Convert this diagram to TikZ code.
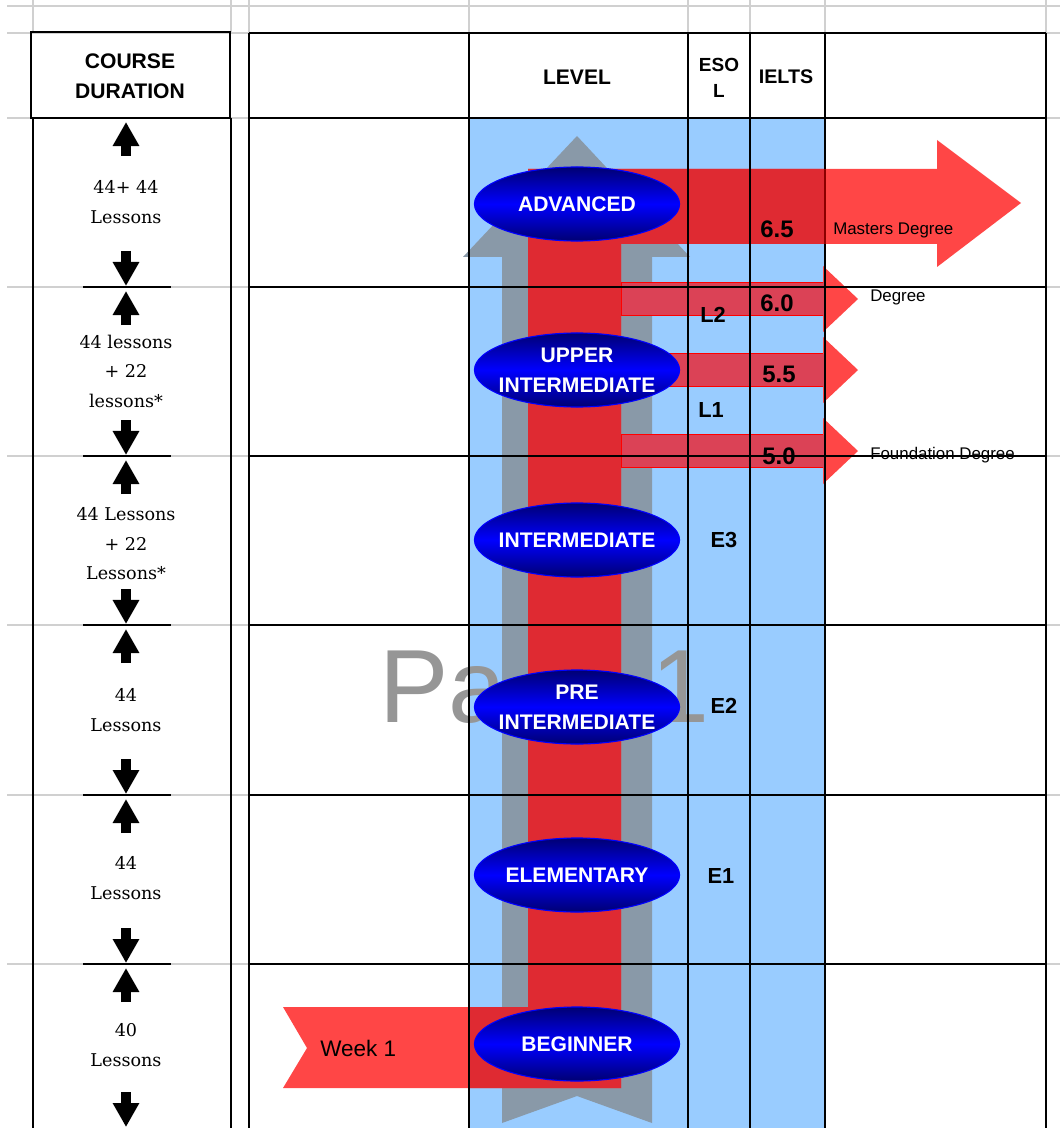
\documentclass[tikz,border=0pt]{standalone}
\usepackage{fontspec}
\setmainfont{DejaVu Serif}
\setsansfont{Liberation Sans}
\usetikzlibrary{arrows.meta,shapes.geometric}

\definecolor{cellblue}{RGB}{153,204,255}
\definecolor{gridgray}{RGB}{208,208,208}
\definecolor{arrowgray}{RGB}{137,153,168}
\definecolor{lightred}{RGB}{255,70,70}
\definecolor{darkred}{RGB}{223,42,50}
\definecolor{pinkred}{RGB}{219,66,86}
\definecolor{lvlnavy}{RGB}{0,0,115}
\definecolor{pagetext}{RGB}{150,150,150}

\begin{document}
\begin{tikzpicture}[x=0.025cm, y=-0.025cm,
	lvlshape/.style={ellipse, draw=blue, line width=0.8pt, minimum width=5.125cm, minimum height=1.85cm, inner sep=0pt,
		top color=lvlnavy, bottom color=lvlnavy, middle color=blue},
	lvltext/.style={text=white, font=\sffamily\bfseries\fontsize{15}{21}\selectfont, align=center, inner sep=0pt},
	headtext/.style={font=\sffamily\bfseries\fontsize{15}{21}\selectfont, align=center, inner sep=0pt},
	esoltext/.style={font=\sffamily\bfseries\fontsize{15.5}{18}\selectfont, inner sep=0pt},
	ieltstext/.style={font=\sffamily\bfseries\fontsize{17}{18}\selectfont, inner sep=0pt},
	goaltext/.style={font=\sffamily\fontsize{12}{14}\selectfont, anchor=west, inner sep=0pt},
	durtext/.style={font=\fontsize{12.5}{21}\selectfont, align=center, inner sep=0pt},
	durarrow/.style={line width=0.24cm, -{Triangle[width=0.625cm,length=0.6cm]}},
	gridline/.style={gridgray, line width=0.8pt},
	tableline/.style={black, line width=0.9pt}]
	\useasboundingbox (0,0) rectangle (1060,1128);

	% spreadsheet grid
	\foreach \y in {6,33,118,287,456,625,795,964}
		\draw[gridline] (7,\y) -- (1060,\y);
	\foreach \x in {33,231,249,469,688,750,825,1046}
		\draw[gridline] (\x,0) -- (\x,33);

	% level column
	\fill[cellblue] (469,118) rectangle (825,1128);
	\node[text=pagetext, font=\sffamily\fontsize{74}{76}\selectfont, anchor=base west, inner sep=0pt] (page) at (379,722) {Page 1};
	\fill[arrowgray] (502,1123) -- (502,257) -- (463,257) -- (577,136) -- (690,257) -- (652,257) -- (652,1123) -- (577,1096) -- cycle;

	% route from week 1 up to the degrees
	\fill[lightred] (283,1007) -- (307,1048) -- (283,1088) -- (621,1088) -- (621,244) -- (937,244) -- (937,267)
		-- (1021,203) -- (937,140) -- (937,169) -- (528,169) -- (528,1007) -- cycle;
	\foreach \c in {299,370,451}
		\fill[lightred] (621,\c-16.5) -- (823,\c-16.5) -- (823,\c-33) -- (858,\c) -- (823,\c+33) -- (823,\c+16.5) -- (621,\c+16.5) -- cycle;
	\begin{scope}
		\clip (469,118) rectangle (825,1128);
		\fill[darkred] (283,1007) -- (307,1048) -- (283,1088) -- (621,1088) -- (621,244) -- (937,244) -- (937,267)
			-- (1021,203) -- (937,140) -- (937,169) -- (528,169) -- (528,1007) -- cycle;
		\foreach \c in {299,370,451}
			\fill[pinkred] (621,\c-16.5) rectangle (825,\c+16.5);
	\end{scope}
	\foreach \c in {299,370,451}
		\draw[red, line width=0.6pt] (823,\c-16.5) -- (621,\c-16.5) -- (621,\c+16.5) -- (823,\c+16.5);

	% table lines
	\draw[line width=2pt] (31,32) rectangle (230,118);
	\draw[tableline] (33,118) -- (33,1128) (231,118) -- (231,1128);
	\foreach \y in {287,456,625,795,964}
		\draw[tableline] (83,\y) -- (171,\y);
	\foreach \x in {249,469,688,750,825,1046}
		\draw[tableline] (\x,33) -- (\x,1128);
	\foreach \y in {33,118,287,456,625,795,964}
		\draw[tableline] (249,\y) -- (1046,\y);
	\draw[tableline, red!55!black] (825,169) -- (825,244);

	% headers
	\node[headtext] (duration) at (130,76) {COURSE\\DURATION};
	\node[headtext] (level) at (577,77) {LEVEL};
	\node[headtext, font=\sffamily\bfseries\fontsize{13.5}{18.5}\selectfont] (esol) at (719,78) {ESO\\L};
	\node[headtext, font=\sffamily\bfseries\fontsize{14}{18}\selectfont] (ielts) at (786,77) {IELTS};

	% course duration
	\foreach \t/\b in {118/287,287/456,456/625,625/795,795/964,964/1128} {
		\draw[durarrow] (126,\t+38) -- (126,\t+4);
		\draw[durarrow] (126,\b-36) -- (126,\b-1);
	}
	\node[durtext] (dur-adv) at (126,202) {44+ 44\\Lessons};
	\node[durtext] (dur-upp) at (126,371) {44 lessons\\+ 22\\lessons*};
	\node[durtext] (dur-int) at (126,544) {44 Lessons\\+ 22\\Lessons*};
	\node[durtext] (dur-pre) at (126,710) {44\\Lessons};
	\node[durtext] (dur-ele) at (126,878) {44\\Lessons};
	\node[durtext] (dur-beg) at (126,1045) {40\\Lessons};

	% levels
	\node[lvlshape] (advanced) at (577,204) {};
	\node[lvltext] (advanced-t) at (advanced) {ADVANCED};
	\node[lvlshape] (upper) at (577,370) {};
	\node[lvltext] (upper-t) at (upper) {UPPER\\INTERMEDIATE};
	\node[lvlshape] (inter) at (577,540) {};
	\node[lvltext] (inter-t) at (inter) {INTERMEDIATE};
	\node[lvlshape] (pre) at (577,707) {};
	\node[lvltext] (pre-t) at (pre) {PRE\\INTERMEDIATE};
	\node[lvlshape] (elem) at (577,875) {};
	\node[lvltext] (elem-t) at (elem) {ELEMENTARY};
	\node[lvlshape] (begin) at (577,1044) {};
	\node[lvltext] (begin-t) at (begin) {BEGINNER};

	% esol and ielts
	\node[esoltext] (l2) at (713,315) {L2};
	\node[esoltext] (l1) at (711,410) {L1};
	\node[esoltext] (e3) at (724,540) {E3};
	\node[esoltext] (e2) at (724,706) {E2};
	\node[esoltext] (e1) at (721,876) {E1};
	\node[ieltstext] (i65) at (777,229) {6.5};
	\node[ieltstext] (i60) at (777,303) {6.0};
	\node[ieltstext] (i55) at (779,374) {5.5};
	\node[ieltstext] (i50) at (779,456) {5.0};

	\node[goaltext] (masters) at (833,230) {Masters Degree};
	\node[goaltext] (degree) at (870,297) {Degree};
	\node[goaltext] (found) at (870,455) {Foundation Degree};
	\node[goaltext, font=\sffamily\fontsize{16}{18}\selectfont] (week) at (320,1048) {Week 1};
\end{tikzpicture}
\end{document}
